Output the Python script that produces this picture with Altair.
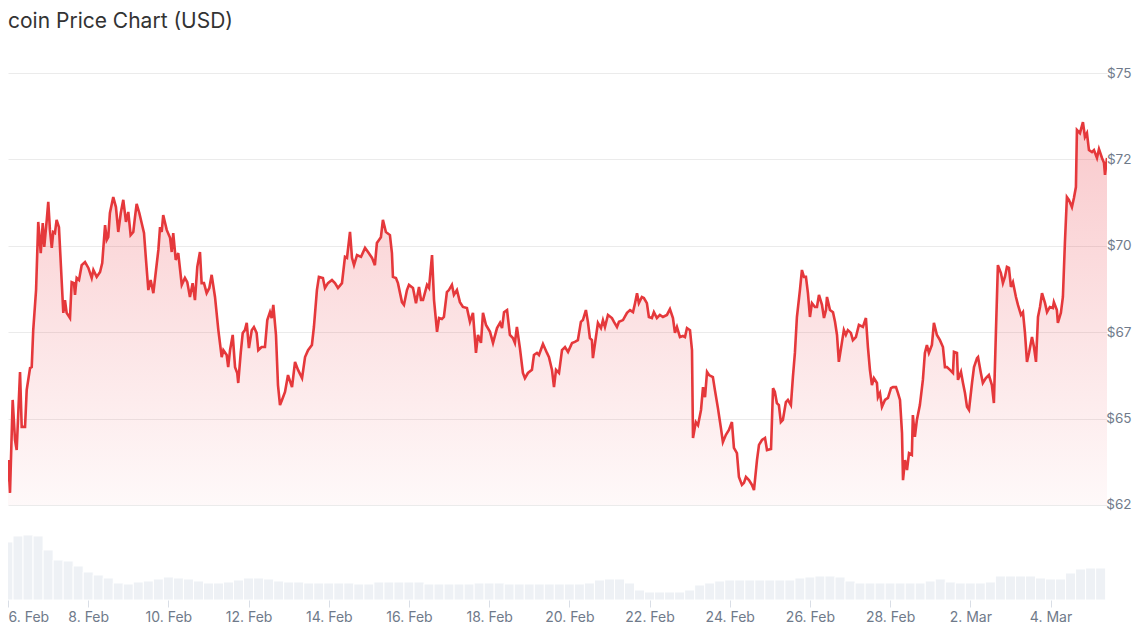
import altair as alt
import pandas as pd

TITLE = "coin Price Chart (USD)"
START = "2026-02-06T00:00:00Z"

# hours after 6 Feb 00:00 UTC
hours = [
    -4.8, -4.2, -3.2, -1.8, -0.8, 0.2, 1.2, 2.8, 4.2, 5.2, 7.2, 8.2, 10.2, 11.2, 13.2, 14.2, 15.1, 16.8, 18.1, 19.6,
    20.8, 21.7, 23.2, 24.1, 25.1, 26.2, 27.1, 28.1, 29.1, 30.5, 32.1, 33.1, 34.1, 35.1, 37.1, 38.1, 39.5, 40.1, 41.1, 42.5,
    44.1, 46.1, 48.1, 50.1, 51.1, 53.1, 55.1, 56.4, 58.1, 59.1, 60.0, 61.0, 63.0, 64.6, 66.0, 67.5, 69.0, 70.6, 72.0, 73.4,
    75.0, 76.0, 77.0, 78.6, 80.0, 81.4, 82.6, 84.0, 85.4, 87.0, 88.6, 90.0, 91.0, 92.0, 92.9, 95.0, 97.0, 98.0, 98.9, 100.4,
    101.9, 104.0, 105.9, 107.3, 108.9, 110.5, 111.9, 113.3, 114.9, 115.9, 117.3, 118.9, 120.5, 121.9, 123.9, 125.9, 127.9, 128.9, 130.9, 131.8,
    132.9, 134.5, 135.9, 137.2, 137.8, 139.3, 140.5, 141.8, 142.9, 144.2, 145.9, 147.2, 148.8, 149.8, 151.8, 153.8, 155.2, 156.8, 157.8, 158.8,
    160.4, 161.6, 162.8, 164.0, 165.8, 167.6, 170.0, 171.8, 173.6, 176.0, 177.8, 179.6, 181.9, 183.1, 184.9, 186.1, 188.5, 189.7, 191.5, 193.9,
    195.7, 197.5, 199.9, 201.7, 202.9, 204.7, 205.9, 207.1, 208.9, 211.3, 213.7, 215.5, 217.9, 219.6, 220.8, 223.2, 224.4, 226.2, 228.6, 229.8,
    230.4, 232.2, 233.4, 235.8, 237.0, 238.8, 240.0, 242.4, 244.2, 246.0, 247.2, 248.4, 250.8, 252.0, 253.8, 255.0, 256.8, 258.0, 259.7, 260.9,
    262.7, 263.9, 265.7, 266.9, 268.7, 270.5, 272.3, 274.7, 276.5, 278.3, 280.1, 281.3, 283.1, 284.3, 286.1, 288.5, 290.3, 292.7, 294.5, 295.7,
    296.9, 298.7, 300.4, 302.2, 303.4, 304.6, 306.4, 308.2, 309.4, 311.2, 313.6, 314.8, 316.6, 317.8, 320.2, 322.6, 323.8, 325.6, 326.8, 328.0,
    329.8, 331.6, 333.4, 335.2, 337.6, 339.3, 341.1, 342.9, 344.1, 345.9, 347.1, 348.3, 349.5, 350.1, 351.9, 353.1, 354.9, 356.1, 357.3, 359.1,
    361.5, 362.7, 364.5, 365.7, 368.1, 370.5, 372.3, 374.1, 375.3, 376.5, 377.6, 379.4, 380.6, 382.4, 383.6, 385.4, 386.6, 388.4, 390.2, 392.0,
    394.4, 396.2, 398.0, 399.2, 400.4, 402.2, 404.0, 405.2, 406.4, 408.2, 409.4, 410.0, 411.7, 413.0, 414.8, 416.0, 417.2, 418.4, 419.6, 421.9,
    423.1, 424.9, 426.7, 427.9, 429.7, 431.5, 433.3, 434.5, 436.3, 437.5, 439.3, 440.5, 441.7, 443.5, 445.3, 446.5, 448.3, 449.5, 451.3, 453.1,
    454.3, 456.7, 457.9, 459.0, 460.2, 461.4, 462.6, 463.8, 465.6, 466.8, 468.6, 469.8, 471.0, 472.2, 474.0, 475.2, 476.4, 477.6, 478.8, 480.0,
    481.2, 483.0, 484.2, 485.4, 487.2, 488.4, 489.6, 490.2, 492.0, 493.8, 495.0, 496.2, 497.3, 499.1, 500.3, 501.5, 502.7, 504.5, 505.7, 507.5,
    509.3, 511.7, 513.5, 514.7, 515.9, 517.1, 518.3, 520.1, 520.7, 521.9, 523.1, 524.9, 526.7, 528.5, 529.7, 531.5, 532.7, 533.9, 535.1, 535.7,
    536.9, 538.1, 539.3, 541.0, 541.6, 542.8, 544.0, 545.8, 547.6, 548.8, 550.0, 551.2, 553.0, 554.2, 556.0, 557.8, 559.6, 560.8, 562.0, 563.8,
    565.6, 566.2, 568.0, 568.6, 570.4, 571.6, 572.8, 574.0, 575.2, 577.0, 578.2, 580.0, 580.6, 582.3, 583.5, 585.3, 587.1, 588.9, 590.1, 591.3,
    592.5, 594.3, 595.5, 596.7, 597.9, 599.1, 600.3, 601.5, 603.3, 604.5, 606.3, 607.5, 608.7, 609.9, 611.1, 612.9, 614.1, 615.3, 616.5, 617.7,
    618.9, 620.7, 621.9, 623.6, 625.4, 626.0, 627.8, 628.4, 630.2, 631.4, 632.6, 633.8, 635.0, 636.8, 638.0, 639.2, 639.8, 641.6, 643.4, 644.6,
    645.8, 647.0, 648.8, 650.0, 651.8, 653.0, 654.8, 656.0, 656.6, 657.8,
]

# price in thousands of USD
price_k = [
    68.06, 66.20, 66.12, 64.67, 63.14, 63.80, 62.85, 65.54, 64.38, 64.09, 66.35, 64.76, 64.76, 65.83, 66.46, 66.49, 67.56, 68.72, 70.69, 69.79,
    70.66, 69.97, 70.75, 71.27, 70.46, 69.94, 70.40, 70.37, 70.75, 70.54, 69.01, 68.06, 68.43, 68.06, 67.91, 68.95, 68.92, 68.58, 69.07, 69.01,
    69.44, 69.53, 69.36, 69.07, 69.30, 69.10, 69.24, 69.50, 70.60, 70.17, 70.25, 70.95, 71.41, 71.12, 70.40, 70.95, 71.33, 70.69, 70.98, 70.31,
    70.40, 70.83, 71.21, 70.95, 70.66, 70.37, 69.59, 68.72, 69.01, 68.63, 69.30, 69.88, 70.54, 70.40, 70.89, 70.46, 70.23, 69.82, 70.37, 69.59,
    69.79, 68.87, 69.07, 68.95, 68.52, 68.92, 68.43, 69.39, 69.82, 68.92, 68.92, 68.63, 68.78, 69.16, 68.52, 67.56, 66.78, 66.98, 66.84, 66.49,
    66.98, 67.42, 66.49, 66.32, 66.03, 66.90, 67.48, 67.56, 67.77, 67.04, 67.56, 67.65, 67.48, 66.98, 67.07, 67.07, 67.85, 68.08, 67.91, 68.29,
    67.42, 65.97, 65.39, 65.54, 65.77, 66.26, 65.91, 66.64, 66.41, 66.17, 66.78, 66.98, 67.13, 67.65, 68.72, 69.10, 69.07, 68.78, 68.92, 69.01,
    68.92, 68.78, 68.92, 69.68, 69.65, 70.40, 69.65, 69.44, 69.73, 69.68, 69.94, 69.82, 69.65, 69.44, 70.08, 70.25, 70.75, 70.40, 70.31, 69.79,
    69.10, 69.07, 68.92, 68.37, 68.29, 68.72, 68.87, 68.78, 68.34, 68.81, 68.43, 68.43, 68.87, 68.78, 69.73, 68.43, 67.51, 67.91, 67.88, 67.94,
    68.66, 68.72, 68.87, 68.58, 68.72, 68.37, 68.23, 68.20, 67.80, 68.06, 66.90, 67.42, 67.19, 68.06, 67.71, 67.51, 67.19, 67.62, 67.77, 67.62,
    68.08, 68.14, 67.42, 67.33, 67.19, 67.65, 67.04, 66.32, 66.17, 66.32, 66.41, 66.84, 66.90, 66.84, 67.16, 66.90, 66.78, 66.41, 65.91, 66.41,
    66.32, 66.98, 67.07, 66.93, 67.19, 67.22, 67.27, 67.80, 67.85, 68.14, 67.80, 67.33, 67.27, 66.75, 67.36, 67.77, 67.62, 67.85, 67.65, 68.00,
    67.91, 67.80, 67.65, 67.80, 67.85, 68.06, 68.14, 68.08, 68.34, 68.63, 68.34, 68.52, 68.49, 68.34, 67.94, 67.91, 68.08, 67.91, 68.00, 67.94,
    68.00, 68.17, 67.91, 67.48, 67.65, 67.36, 67.39, 67.36, 67.62, 67.56, 66.98, 64.44, 64.90, 64.81, 65.25, 65.91, 65.62, 66.35, 66.26, 66.20,
    65.83, 65.31, 64.73, 64.32, 64.53, 64.67, 64.90, 64.15, 64.00, 63.31, 63.08, 63.14, 63.31, 63.22, 63.08, 62.93, 63.80, 64.24, 64.38, 64.44,
    64.09, 64.12, 65.88, 65.77, 65.45, 65.39, 64.90, 64.96, 65.48, 65.54, 65.39, 66.20, 66.90, 67.94, 68.72, 69.30, 69.10, 69.10, 68.63, 67.94,
    68.34, 68.23, 68.23, 68.58, 68.29, 67.91, 68.14, 68.52, 68.14, 68.08, 67.80, 67.42, 66.64, 67.19, 67.56, 67.42, 67.56, 67.48, 67.27, 67.36,
    67.71, 67.65, 67.91, 67.07, 66.41, 65.97, 66.17, 66.03, 65.62, 65.74, 65.34, 65.54, 65.60, 65.88, 65.91, 65.91, 65.74, 65.54, 64.58, 63.22,
    63.80, 63.51, 64.00, 63.95, 65.10, 64.47, 64.96, 65.39, 66.12, 66.90, 67.13, 66.90, 67.13, 67.77, 67.42, 67.27, 67.07, 66.49, 66.49, 66.41,
    66.32, 66.93, 66.90, 66.12, 66.35, 66.03, 65.74, 65.34, 65.25, 66.03, 66.49, 66.75, 66.78, 66.32, 66.03, 66.17, 66.26, 65.97, 65.45, 67.48,
    69.44, 69.21, 68.92, 69.10, 69.39, 69.36, 68.81, 68.95, 68.52, 68.29, 68.00, 68.08, 67.48, 66.64, 66.90, 67.36, 67.07, 66.64, 67.94, 68.23,
    68.63, 68.34, 68.08, 68.23, 68.20, 68.37, 68.14, 67.77, 68.06, 68.52, 70.08, 71.41, 71.33, 71.12, 71.38, 71.70, 73.35, 73.26, 73.58, 73.15,
    73.26, 72.77, 72.71, 72.77, 72.54, 72.80, 72.54, 72.40, 72.05, 72.54,
]

# 24h volume (billions USD), one value every 6 hours starting at hour -6
volume_b = [
    64.5, 87, 96, 97.5, 96, 75, 60, 58.5, 51, 42, 37.5, 33, 25.5, 24, 27, 28.5, 31.5, 34.5, 33, 31.5,
    28.5, 25.5, 25.5, 27, 30, 33, 33, 31.5, 28.5, 27, 27, 25.5, 25.5, 25.5, 25.5, 25.5, 24, 24, 27, 27,
    27, 27, 27, 24, 24, 24, 24, 24, 25.5, 25.5, 25.5, 24, 24, 24, 24, 24, 24, 24, 24, 25.5,
    30, 31.5, 31.5, 25.5, 15, 12, 12, 12, 12, 15, 22.5, 25.5, 28.5, 30, 30, 30, 30, 30, 30, 30,
    33, 34.5, 36, 36, 34.5, 28.5, 25.5, 25.5, 25.5, 25.5, 25.5, 25.5, 25.5, 28.5, 31.5, 27, 25.5, 25.5, 25.5, 27,
    36, 36, 36, 36, 33, 31.5, 31.5, 40.5, 46.5, 48, 48,
]

x_tick_dates = ["2026-02-06", "2026-02-08", "2026-02-10", "2026-02-12", "2026-02-14",
                "2026-02-16", "2026-02-18", "2026-02-20", "2026-02-22", "2026-02-24",
                "2026-02-26", "2026-02-28", "2026-03-02", "2026-03-04"]
y_ticks = [62.5, 65, 67.5, 70, 72.5, 75]

H = 3600 * 1000
start_ms = int(pd.Timestamp(START).value // 10**6)
n = min(len(hours), len(price_k))
price_df = pd.DataFrame({
    "t": [start_ms + int(round(h * H)) for h in hours[:n]],
    "price": price_k[:n],
})
vol_hours = [6 * (i - 1) for i in range(len(volume_b))]
vol_df = pd.DataFrame({
    "t0": [start_ms + (h - 3) * H for h in vol_hours],
    "t1": [start_ms + (h + 3) * H for h in vol_hours],
    "vol": volume_b,
})
tick_ms = [int(pd.Timestamp(d, tz="UTC").value // 10**6) for d in x_tick_dates]
x_domain = [start_ms, start_ms + int(657.8 * H)]

GRAY = "#6f7a8a"
FONT = "Inter"
xscale = alt.Scale(type="utc", domain=x_domain)
xaxis = alt.Axis(values=tick_ms, format="%-d. %b", labelFontSize=14, labelColor=GRAY,
                 labelFont=FONT, tickColor="#d9dee6", tickSize=7, labelPadding=3,
                 domain=False, grid=False, title=None, labelFlush=True, labelOverlap=False)
yscale = alt.Scale(domain=[59.751, 75], nice=False, zero=False)
yaxis = alt.Axis(orient="right", values=y_ticks, labelExpr="'$' + floor(datum.value)",
                 grid=True, gridColor="#ebebeb", domain=False, ticks=False, tickSize=0,
                 labelAlign="right", labelPadding=24, labelFontSize=13.5, labelColor=GRAY,
                 labelFont=FONT, title=None)

gradient = alt.Gradient(
    gradient="linear",
    stops=[alt.GradientStop(color="rgba(234,57,67,0.27)", offset=0),
           alt.GradientStop(color="rgba(234,57,67,0.03)", offset=1)],
    x1=0, x2=0, y1=0, y2=1,
)

vol = alt.Chart(vol_df).mark_rect(clip=True, fill="#eef1f5", stroke="white", strokeWidth=1).encode(
    x=alt.X("t0:T", scale=xscale, axis=xaxis),
    x2="t1:T",
    y=alt.Y("vol:Q", scale=alt.Scale(domain=[0, 790], nice=False), axis=None),
    y2=alt.datum(0),
)

area = alt.Chart(price_df).mark_area(clip=True, color=gradient).encode(
    x=alt.X("t:T", scale=xscale, axis=xaxis),
    y=alt.Y("price:Q", scale=yscale, axis=yaxis),
    y2=alt.datum(62.5),
)
line = alt.Chart(price_df).mark_line(clip=True, color="#e5383b", strokeWidth=2.6).encode(
    x=alt.X("t:T", scale=xscale, axis=xaxis),
    y=alt.Y("price:Q", scale=yscale, axis=yaxis),
)
price = alt.layer(area, line)

chart = alt.layer(vol, price).resolve_scale(y="independent").properties(
    width=1099,
    height=527,
    padding={"left": 0, "top": 65, "right": 25, "bottom": 26},
    autosize=alt.AutoSizeParams(type="none"),
    background="white",
    title=alt.Title(TITLE, anchor="start", frame="group", fontSize=21, font=FONT,
                    fontWeight="normal", color="#333333", offset=34),
).configure_view(stroke=None)

chart.save("out.html", embed_options={"renderer": "svg", "actions": False})
